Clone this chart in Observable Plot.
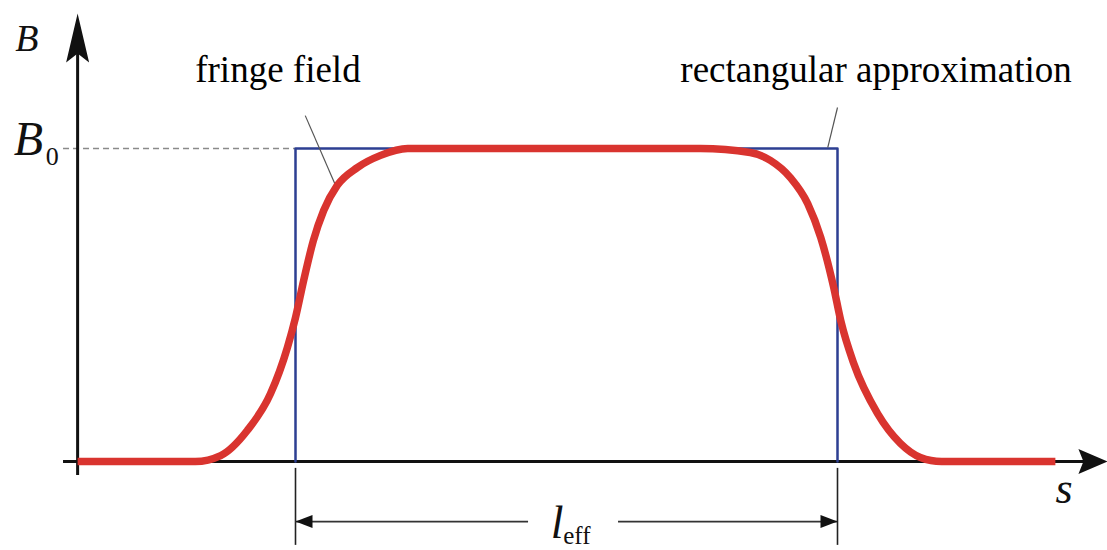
<!DOCTYPE html>
<html>
<head>
<meta charset="utf-8">
<script src="https://cdn.jsdelivr.net/npm/d3@7"></script>
<script src="https://cdn.jsdelivr.net/npm/@observablehq/plot@0.6"></script>
<style>
  html, body { margin: 0; padding: 0; background: #fff; }
  #chart svg { display: block; }
</style>
</head>
<body>
<div id="chart"></div>
<script>
// ---- Data (s in units of l_eff, B in units of B0) ----
// Real fringe-field profile (red curve)
const fringeS = [-0.402, -0.185, -0.138, -0.089, -0.046, -0.015, 0.000, 0.015, 0.033, 0.052, 0.077, 0.114, 0.157, 0.207, 0.249,
                 0.747, 0.839, 0.876, 0.913, 0.945, 0.969, 0.993, 1.006, 1.030, 1.074, 1.116, 1.153, 1.192, 1.402];
const fringeB = [0, 0, 0.019, 0.099, 0.217, 0.364, 0.460, 0.578, 0.706, 0.802, 0.882, 0.939, 0.978, 1.0, 1.0,
                 1.0, 0.987, 0.962, 0.907, 0.824, 0.716, 0.556, 0.450, 0.313, 0.153, 0.058, 0.013, 0, 0];
// Hard-edge (rectangular) approximation: from s = 0 to s = l_eff
const rectS = [0, 0, 1, 1];
const rectB = [0, 1, 1, 0];

// Axes extents (data units)
const axisS0 = -0.402;      // position of the B axis
const axisSStart = -0.428;  // left end of s axis
const axisSEnd = 1.498;     // tip of s axis arrow
const axisBStart = -0.045;  // bottom end of B axis
const axisBEnd = 1.431;     // tip of B axis arrow

// l_eff dimension line
const dimB = -0.192;
const dimExtB = [-0.022, -0.268];
const dimGapS = [0.430, 0.596];

// Annotation labels
const labelText = ["fringe field", "rectangular approximation"];
const labelS = [-0.185, 0.710];
const labelB = [1.214, 1.214];
// leader lines: [s1, B1, s2, B2]
const leaders = [[0.018, 1.105, 0.074, 0.882], [1.0, 1.131, 0.982, 1.003]];

// axis symbol labels
const symB = {text: "B", s: -0.517, b: 1.313};
const symB0 = {text: "B", s: -0.520, b: 0.978, sub: "0", subS: -0.461, subB: 0.946};
const symS = {text: "s", s: 1.402, b: -0.131};
const symL = {text: "l", s: 0.471, b: -0.246, sub: "eff", subS: 0.494, subB: -0.265};

// ---- Build tables ----
const fringe = fringeS.map((s, i) => ({s, B: fringeB[i]}));
const rect = rectS.map((s, i) => ({s, B: rectB[i]}));
const labels = labelText.map((t, i) => ({t, s: labelS[i], B: labelB[i]}));

function arrowHead(len, hw, notch) {
  return {
    draw(ctx) {
      ctx.moveTo(0, 0);
      ctx.lineTo(-len, -hw);
      ctx.lineTo(-len + notch, 0);
      ctx.lineTo(-len, hw);
      ctx.closePath();
    }
  };
}
const bigHead = arrowHead(29, 12.5, 5);
const upHead = arrowHead(49, 11.5, 9);
const smallHead = arrowHead(17, 6.5, 0);

const serif = "'Liberation Serif', serif";

const chart = Plot.plot({
  width: 1107,
  height: 550,
  margin: 0,
  style: {background: "#fff"},
  x: {domain: [0, 1], range: [295, 837], axis: null},
  y: {domain: [0, 1], range: [461, 148], axis: null},
  marks: [
    // dashed B0 guide
    Plot.ruleY([1], {x1: axisSStart, x2: 0, stroke: "#8a8a8a", strokeWidth: 1.5, strokeDasharray: "6,4"}),
    // axes
    Plot.ruleY([0], {x1: axisSStart, x2: axisSEnd - 0.03, stroke: "#111", strokeWidth: 3}),
    Plot.ruleX([axisS0], {y1: axisBStart, y2: axisBEnd - 0.08, stroke: "#111", strokeWidth: 3}),
    Plot.dot([{s: axisSEnd, B: 0}], {x: "s", y: "B", symbol: bigHead, fill: "#111", stroke: "none"}),
    Plot.dot([{s: axisS0, B: axisBEnd}], {x: "s", y: "B", symbol: upHead, rotate: -90, fill: "#111", stroke: "none"}),
    // rectangular approximation
    Plot.line(rect, {x: "s", y: "B", stroke: "#2d3f92", strokeWidth: 2.5}),
    // leader lines
    Plot.link(leaders, {x1: d => d[0], y1: d => d[1], x2: d => d[2], y2: d => d[3], stroke: "#555", strokeWidth: 1.2}),
    // fringe field profile
    Plot.line(fringe, {x: "s", y: "B", stroke: "#d9342f", strokeWidth: 7.5, curve: "monotone-x", strokeLinecap: "butt"}),
    // l_eff dimension
    Plot.ruleX([0, 1], {y1: dimExtB[0], y2: dimExtB[1], stroke: "#222", strokeWidth: 1.6}),
    Plot.ruleY([dimB], {x1: 0, x2: dimGapS[0], stroke: "#333", strokeWidth: 1.6}),
    Plot.ruleY([dimB], {x1: dimGapS[1], x2: 1, stroke: "#333", strokeWidth: 1.6}),
    Plot.dot([{s: 0, B: dimB, r: 180}, {s: 1, B: dimB, r: 0}], {x: "s", y: "B", symbol: smallHead, rotate: "r", fill: "#111", stroke: "none"}),
    // annotation labels
    Plot.text(labels, {x: "s", y: "B", text: "t", textAnchor: "start", lineAnchor: "bottom", fontSize: 37, fontFamily: serif, fill: "#000"}),
    // axis symbols
    Plot.text([symB], {x: "s", y: "b", text: "text", textAnchor: "start", lineAnchor: "bottom", fontSize: 38, fontStyle: "italic", fontFamily: serif, fill: "#111"}),
    Plot.text([symB0], {x: "s", y: "b", text: "text", textAnchor: "start", lineAnchor: "bottom", fontSize: 48, fontStyle: "italic", fontFamily: serif, fill: "#111"}),
    Plot.text([symB0], {x: "subS", y: "subB", text: "sub", textAnchor: "start", lineAnchor: "bottom", fontSize: 26, fontFamily: serif, fill: "#111"}),
    Plot.text([symS], {x: "s", y: "b", text: "text", textAnchor: "start", lineAnchor: "bottom", fontSize: 44, fontStyle: "italic", fontFamily: serif, fill: "#111"}),
    Plot.text([symL], {x: "s", y: "b", text: "text", textAnchor: "start", lineAnchor: "bottom", fontSize: 46, fontStyle: "italic", fontFamily: serif, fill: "#111"}),
    Plot.text([symL], {x: "subS", y: "subB", text: "sub", textAnchor: "start", lineAnchor: "bottom", fontSize: 25, fontFamily: serif, fill: "#111"})
  ]
});

document.getElementById("chart").appendChild(chart);
</script>
</body>
</html>
